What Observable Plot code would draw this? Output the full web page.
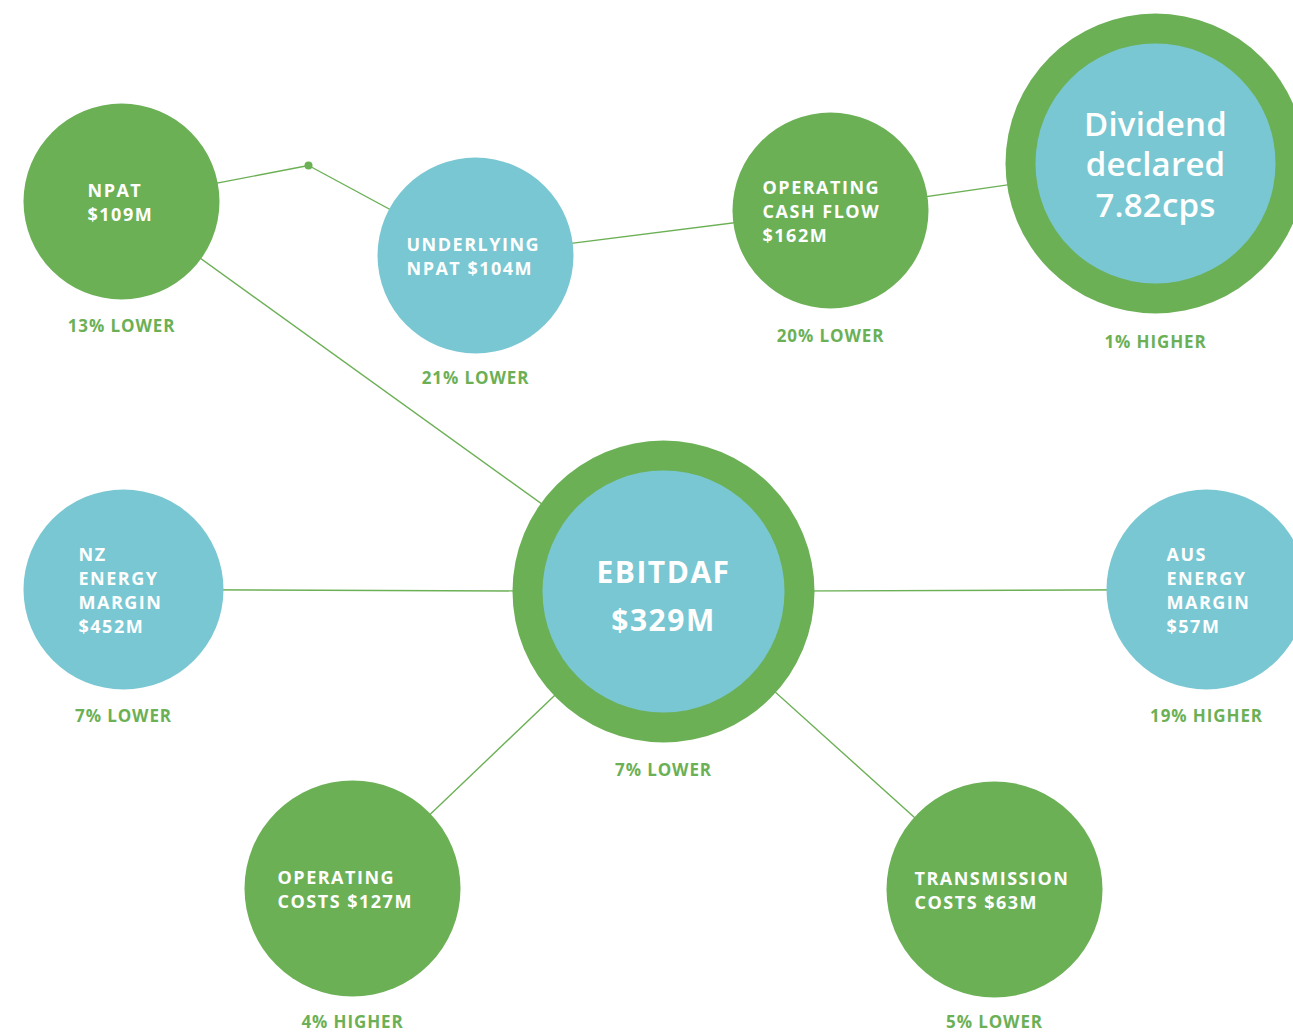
<!DOCTYPE html>
<html>
<head>
<meta charset="utf-8">
<script src="https://cdn.jsdelivr.net/npm/d3@7"></script>
<script src="https://cdn.jsdelivr.net/npm/@observablehq/plot@0.6"></script>
<style>
  html, body { margin: 0; padding: 0; background: #fff; overflow: hidden; }
</style>
</head>
<body>
<div id="chart"></div>
<script>
// ---- data ----
const ids = ["npat", "underlying", "ocf", "dividend", "nz", "ebitdaf", "aus", "opcosts", "transmission"];
const labels = [
  "NPAT\n$109M",
  "UNDERLYING\nNPAT $104M",
  "OPERATING\nCASH FLOW\n$162M",
  "Dividend\ndeclared\n7.82cps",
  "NZ\nENERGY\nMARGIN\n$452M",
  "EBITDAF\n$329M",
  "AUS\nENERGY\nMARGIN\n$57M",
  "OPERATING\nCOSTS $127M",
  "TRANSMISSION\nCOSTS $63M"
];
const changePct = [13, 21, 20, 1, 7, 7, 19, 4, 5];
const changeDir = ["LOWER", "LOWER", "LOWER", "HIGHER", "LOWER", "LOWER", "HIGHER", "HIGHER", "LOWER"];
const kinds = ["green", "blue", "green", "ring", "blue", "ring", "blue", "green", "green"];
const links = [
  ["npat", "junction"], ["junction", "underlying"], ["underlying", "ocf"], ["ocf", "dividend"],
  ["npat", "ebitdaf"], ["nz", "ebitdaf"], ["ebitdaf", "aus"],
  ["ebitdaf", "opcosts"], ["ebitdaf", "transmission"]
];

// ---- layout (positions in pixel units, separate from data) ----
const layout = {
  npat:         {cx: 121,  cy: 201, r: 98,  tx: 87,   ly: 326},
  underlying:   {cx: 475,  cy: 255, r: 98,  tx: 406,  ly: 378},
  ocf:          {cx: 830,  cy: 210, r: 98,  tx: 762,  ly: 336},
  dividend:     {cx: 1155, cy: 163, r: 150, ri: 120, ly: 342},
  nz:           {cx: 123,  cy: 589, r: 100, tx: 78,   ly: 716},
  ebitdaf:      {cx: 663,  cy: 591, r: 151, ri: 121, ly: 770},
  aus:          {cx: 1206, cy: 589, r: 100, tx: 1166, ly: 716},
  opcosts:      {cx: 352,  cy: 888, r: 108, tx: 277,  ly: 1022},
  transmission: {cx: 994,  cy: 889, r: 108, tx: 914,  ly: 1022},
  junction:     {cx: 308,  cy: 165, r: 4}
};

const GREEN = "#6cb056";
const BLUE = "#79c7d2";

const nodes = ids.map((id, i) => ({
  id, label: labels[i], kind: kinds[i],
  change: `${changePct[i]}% ${changeDir[i]}`,
  ...layout[id]
}));
const edges = links.map(([a, b]) => ({
  x1: layout[a].cx, y1: layout[a].cy, x2: layout[b].cx, y2: layout[b].cy
}));

const W = 1293, H = 1032;

const chart = Plot.plot({
  width: W,
  height: H,
  margin: 0,
  x: {domain: [0, W], range: [0, W], axis: null},
  y: {domain: [0, H], range: [0, H], axis: null},
  r: {type: "identity"},
  style: {fontFamily: "'Open Sans', sans-serif", background: "#fff"},
  marks: [
    Plot.link(edges, {x1: "x1", y1: "y1", x2: "x2", y2: "y2", stroke: GREEN, strokeWidth: 1.4}),
    Plot.dot([layout.junction], {x: "cx", y: "cy", r: "r", fill: GREEN}),
    // outer circles
    Plot.dot(nodes, {x: "cx", y: "cy", r: "r", fill: d => d.kind === "blue" ? BLUE : GREEN}),
    // inner circles for ringed nodes
    Plot.dot(nodes.filter(d => d.kind === "ring"), {x: "cx", y: "cy", r: "ri", fill: BLUE}),
    // small labels, left-aligned block
    Plot.text(nodes.filter(d => d.kind !== "ring"), {
      x: "tx", y: "cy", text: "label", textAnchor: "start", lineAnchor: "middle",
      lineHeight: 1.333, fill: "white", fontSize: 18, fontWeight: 700
    }),
    // dividend label
    Plot.text(nodes.filter(d => d.id === "dividend"), {
      x: "cx", y: "cy", text: "label", textAnchor: "middle", lineAnchor: "middle",
      lineHeight: 1.22, fill: "white", fontSize: 33, fontWeight: 600
    }),
    // EBITDAF label
    Plot.text(nodes.filter(d => d.id === "ebitdaf"), {
      x: "cx", y: "cy", text: "label", textAnchor: "middle", lineAnchor: "middle",
      lineHeight: 1.6, fill: "white", fontSize: 30, fontWeight: 700
    }),
    // change labels
    Plot.text(nodes, {
      x: "cx", y: "ly", text: "change", textAnchor: "middle", lineAnchor: "middle",
      fill: GREEN, fontSize: 17, fontWeight: 700
    })
  ]
});

const groups = chart.querySelectorAll('g[aria-label="text"]');
const spacing = ["1.5px", "0.2px", "1.5px", "0.9px"];
groups.forEach((g, i) => g.setAttribute("letter-spacing", spacing[i] || "0px"));

document.getElementById("chart").appendChild(chart);
</script>
</body>
</html>
